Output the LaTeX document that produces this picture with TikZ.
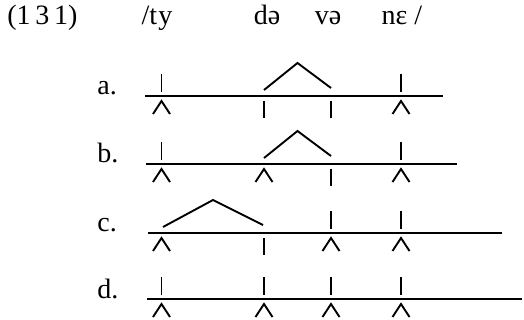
\documentclass[tikz,border=0pt]{standalone}
\usepackage{fontspec}
\setmainfont{Liberation Serif}
\usetikzlibrary{positioning}

% marks on and around an association line at height #2
\newcommand{\uptick}[2]{\draw[seg] (#1,#2-22) -- (#1,#2-4);}
\newcommand{\lowtick}[2]{\draw[seg] (#1,#2+5) -- (#1,#2+22);}
\newcommand{\lowcaret}[2]{\draw[seg] (#1-8.5,#2+18) -- (#1,#2+5) -- (#1+8.5,#2+18);}
\newcommand{\roof}[3]{\draw[seg] (#1,#3-6) -- ({(#1+#2)/2},#3-33) -- (#2,#3-8);}

\begin{document}
\begin{tikzpicture}[
    x=0.5pt, y=-0.5pt,
    tier/.style={line width=0.8pt},
    seg/.style={line width=0.95pt},
    txt/.style={inner sep=0pt, font=\fontsize{14}{16}\selectfont},
    lbl/.style={txt, anchor=base west}
]
\useasboundingbox (0,0) rectangle (524,320);

% header
\node[lbl] (num) at (7,25) {(1\,3\,1)};
\node[txt, anchor=base] (s1) at (157,25) {/t\kern0.6pt y};
\node[txt, anchor=base] (s2) at (267,25) {də};
\node[txt, anchor=base] (s3) at (328,25) {və};
\node[txt, anchor=base] (s4) at (402,25) {nɛ /};

% a.
\node[lbl] (la) at (97,95) {a.};
\draw[tier] (145,96) -- (443,96);
\uptick{161.5}{96} \roof{264}{331}{96} \uptick{401}{96}
\lowcaret{161.5}{96} \lowtick{264}{96} \lowtick{331}{96} \lowcaret{401}{96}

% b.
\node[lbl] (lb) at (97,163) {b.};
\draw[tier] (146,164) -- (457,164);
\uptick{161.5}{164} \roof{264}{331}{164} \uptick{401}{164}
\lowcaret{161.5}{164} \lowcaret{264}{164} \lowtick{331}{164} \lowcaret{401}{164}

% c.
\node[lbl] (lc) at (97,231) {c.};
\draw[tier] (148,233) -- (502,233);
\roof{163}{263}{233} \uptick{331}{233} \uptick{401}{233}
\lowcaret{161.5}{233} \lowtick{264}{233} \lowcaret{331}{233} \lowcaret{401}{233}

% d.
\node[lbl] (ld) at (97,298) {d.};
\draw[tier] (147,299) -- (522,299);
\foreach \x in {161.5,264,331,401} {\uptick{\x}{299} \lowcaret{\x}{299}}
\end{tikzpicture}
\end{document}
